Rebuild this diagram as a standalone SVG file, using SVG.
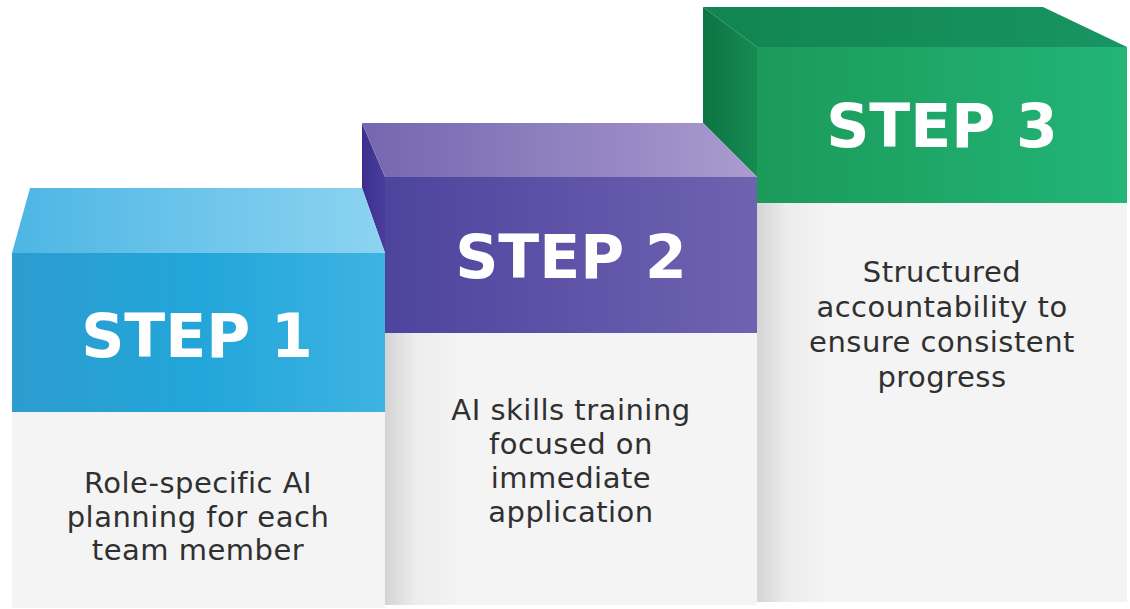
<svg xmlns="http://www.w3.org/2000/svg" width="1130" height="609" viewBox="0 0 1130 609">
<defs>
<linearGradient id="t1" x1="0" y1="0" x2="1" y2="0"><stop offset="0" stop-color="#4db6e4"/><stop offset="1" stop-color="#8dd3f1"/></linearGradient>
<linearGradient id="f1" x1="0" y1="0" x2="1" y2="0"><stop offset="0" stop-color="#2d9ccf"/><stop offset="0.5" stop-color="#22a6d9"/><stop offset="1" stop-color="#3db3e2"/></linearGradient>
<linearGradient id="t2" x1="0" y1="0" x2="1" y2="0"><stop offset="0" stop-color="#7566b0"/><stop offset="1" stop-color="#aa9bcf"/></linearGradient>
<linearGradient id="f2" x1="0" y1="0" x2="1" y2="0"><stop offset="0" stop-color="#4d449e"/><stop offset="1" stop-color="#6f62b0"/></linearGradient>
<linearGradient id="s2" x1="0" y1="0" x2="1" y2="0"><stop offset="0" stop-color="#3a2f8c"/><stop offset="1" stop-color="#4b3d9c"/></linearGradient>
<linearGradient id="t3" x1="0" y1="0" x2="1" y2="0"><stop offset="0" stop-color="#128550"/><stop offset="1" stop-color="#179562"/></linearGradient>
<linearGradient id="f3" x1="0" y1="0" x2="1" y2="0"><stop offset="0" stop-color="#1b9a5a"/><stop offset="1" stop-color="#22b577"/></linearGradient>
<linearGradient id="s3" x1="0" y1="0" x2="1" y2="0"><stop offset="0" stop-color="#0d7443"/><stop offset="1" stop-color="#168b52"/></linearGradient>
<linearGradient id="pan" x1="0" y1="0" x2="1" y2="0"><stop offset="0" stop-color="#d4d4d4"/><stop offset="0.08" stop-color="#ececec"/><stop offset="0.2" stop-color="#f4f4f4"/><stop offset="1" stop-color="#f4f4f4"/></linearGradient>
</defs>
<style>
.step{font-family:"DejaVu Sans",Verdana,sans-serif;font-weight:bold;font-size:60px;fill:#ffffff;text-anchor:middle}
.body{font-family:"DejaVu Sans",Verdana,sans-serif;font-size:29px;fill:#303030;text-anchor:middle;letter-spacing:0.5px}
.panel1{fill:#f4f4f4}
</style>
<rect width="1130" height="609" fill="#ffffff"/>
<g id="step3">
<polygon points="703,7 757,47 757,177 703,123" fill="url(#s3)"/>
<polygon points="703,7 1043,7 1127,47 757,47" fill="url(#t3)"/>
<rect x="757" y="47" width="370" height="156" fill="url(#f3)"/>
<rect x="757" y="203" width="370" height="399" fill="url(#pan)"/>
<text class="step" x="942" y="147">STEP 3</text>
<text class="body" x="942" y="282">Structured</text>
<text class="body" x="942" y="317">accountability to</text>
<text class="body" x="942" y="352">ensure consistent</text>
<text class="body" x="942" y="387">progress</text>
</g>
<g id="step2">
<polygon points="362,123 385,177 385,253 362,188" fill="url(#s2)"/>
<polygon points="362,123 703,123 757,177 385,177" fill="url(#t2)"/>
<rect x="385" y="177" width="372" height="156" fill="url(#f2)"/>
<rect x="385" y="333" width="372" height="272" fill="url(#pan)"/>
<text class="step" x="571" y="278">STEP 2</text>
<text class="body" x="571" y="420">AI skills training</text>
<text class="body" x="571" y="454">focused on</text>
<text class="body" x="571" y="488">immediate</text>
<text class="body" x="571" y="522">application</text>
</g>
<g id="step1">
<polygon points="30,188 362,188 385,253 12,253" fill="url(#t1)"/>
<rect x="12" y="253" width="373" height="159" fill="url(#f1)"/>
<rect x="12" y="412" width="373" height="196" class="panel1"/>
<text class="step" x="197" y="357">STEP 1</text>
<text class="body" x="198" y="493">Role-specific AI</text>
<text class="body" x="198" y="527">planning for each</text>
<text class="body" x="198" y="560">team member</text>
</g>
<g id="connectors"/>
</svg>
